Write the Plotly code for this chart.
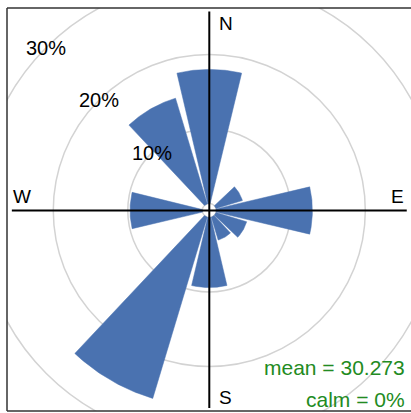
import numpy as np
import plotly.graph_objects as go

# ---- data ----
directions = [0, 30, 60, 90, 120, 150, 180, 210, 240, 270, 300, 330]
frequency_pct = [18.0, 0.0, 3.7, 12.9, 4.3, 3.2, 9.4, 25.4, 0.0, 9.7, 0.0, 14.8]
grid_pct = [10, 20, 30]
grid_labels = ["10%", "20%", "30%"]
compass_labels = ["N", "E", "S", "W"]
stats_text = ["mean = 30.273", "calm = 0%"]

# ---- style / geometry ----
OFFSET = 0.94          # centre hole (in % units)
HALF_WIDTH = 13.25     # half sector width (degrees)
BAR_COLOR = "#4a72b0"
GRID_COLOR = "#d3d3d3"
AXIS_EXT = 26.5
FONT = "Liberation Sans, Arial, sans-serif"

fig = go.Figure()

# bars
for d, v in zip(directions, frequency_pct):
    if v <= 0:
        continue
    th = np.radians(np.linspace(d - HALF_WIDTH, d + HALF_WIDTH, 40))
    r_out = OFFSET + v
    xs = np.concatenate([r_out * np.sin(th), OFFSET * np.sin(th[::-1])])
    ys = np.concatenate([r_out * np.cos(th), OFFSET * np.cos(th[::-1])])
    fig.add_trace(go.Scatter(x=np.append(xs, xs[0]), y=np.append(ys, ys[0]),
                             mode="lines", fill="toself", fillcolor=BAR_COLOR,
                             line=dict(color=BAR_COLOR, width=0.5),
                             hoverinfo="skip", showlegend=False))

shapes = []
# grid circles (below)
for p in [0] + grid_pct:
    r = OFFSET + p
    shapes.append(dict(type="circle", xref="x", yref="y", x0=-r, x1=r, y0=-r, y1=r,
                       line=dict(color=GRID_COLOR, width=1.5), layer="below"))
# compass axes (above)
shapes.append(dict(type="line", xref="x", yref="y", x0=0, x1=0, y0=-AXIS_EXT, y1=AXIS_EXT + 0.2,
                   line=dict(color="black", width=2), layer="above"))
shapes.append(dict(type="line", xref="x", yref="y", x0=-AXIS_EXT, x1=AXIS_EXT, y0=0, y1=0,
                   line=dict(color="black", width=2), layer="above"))
# frame (left, top, bottom)
frame = dict(color="#333333", width=1.5)
shapes.append(dict(type="line", xref="paper", yref="paper", x0=0, x1=0, y0=0, y1=1, line=frame))
shapes.append(dict(type="line", xref="paper", yref="paper", x0=0, x1=1, y0=1, y1=1, line=frame))
shapes.append(dict(type="line", xref="paper", yref="paper", x0=0, x1=1, y0=0, y1=0, line=frame))

annotations = []
# percent labels along the NW diagonal
for p, lab in zip(grid_pct, grid_labels):
    r = OFFSET + p
    a = np.radians(315)
    annotations.append(dict(x=r * np.sin(a), y=r * np.cos(a), text=lab, showarrow=False,
                            xanchor="center", yanchor="middle",
                            font=dict(size=20, color="black", family=FONT)))
# compass labels
pos = {"N": (1.0, 25.1, "left"), "S": (1.0, -25.1, "left"),
       "E": (25.2, 1.85, "center"), "W": (-25.1, 1.85, "center")}
for lab in compass_labels:
    x, y, xa = pos[lab]
    annotations.append(dict(x=x, y=y, text=lab, showarrow=False, xanchor=xa, yanchor="middle",
                            font=dict(size=19, color="black", family=FONT)))
# stats
for t, y in zip(stats_text, [-21.07, -25.3]):
    annotations.append(dict(x=26.5, y=y, text=t, showarrow=False, xanchor="right", yanchor="middle",
                            font=dict(size=21, color="forestgreen", family=FONT)))

fig.update_layout(
    width=411, height=413,
    margin=dict(l=7, r=0, t=8, b=2),
    paper_bgcolor="white", plot_bgcolor="white",
    xaxis=dict(range=[-27.15, 27.07], visible=False, fixedrange=True),
    yaxis=dict(range=[-26.91, 27.18], visible=False, fixedrange=True),
    shapes=shapes, annotations=annotations, showlegend=False,
)

fig.write_html("out.html", config={"displayModeBar": False},
               post_script="document.body.style.margin='0';document.body.style.overflow='hidden';")
